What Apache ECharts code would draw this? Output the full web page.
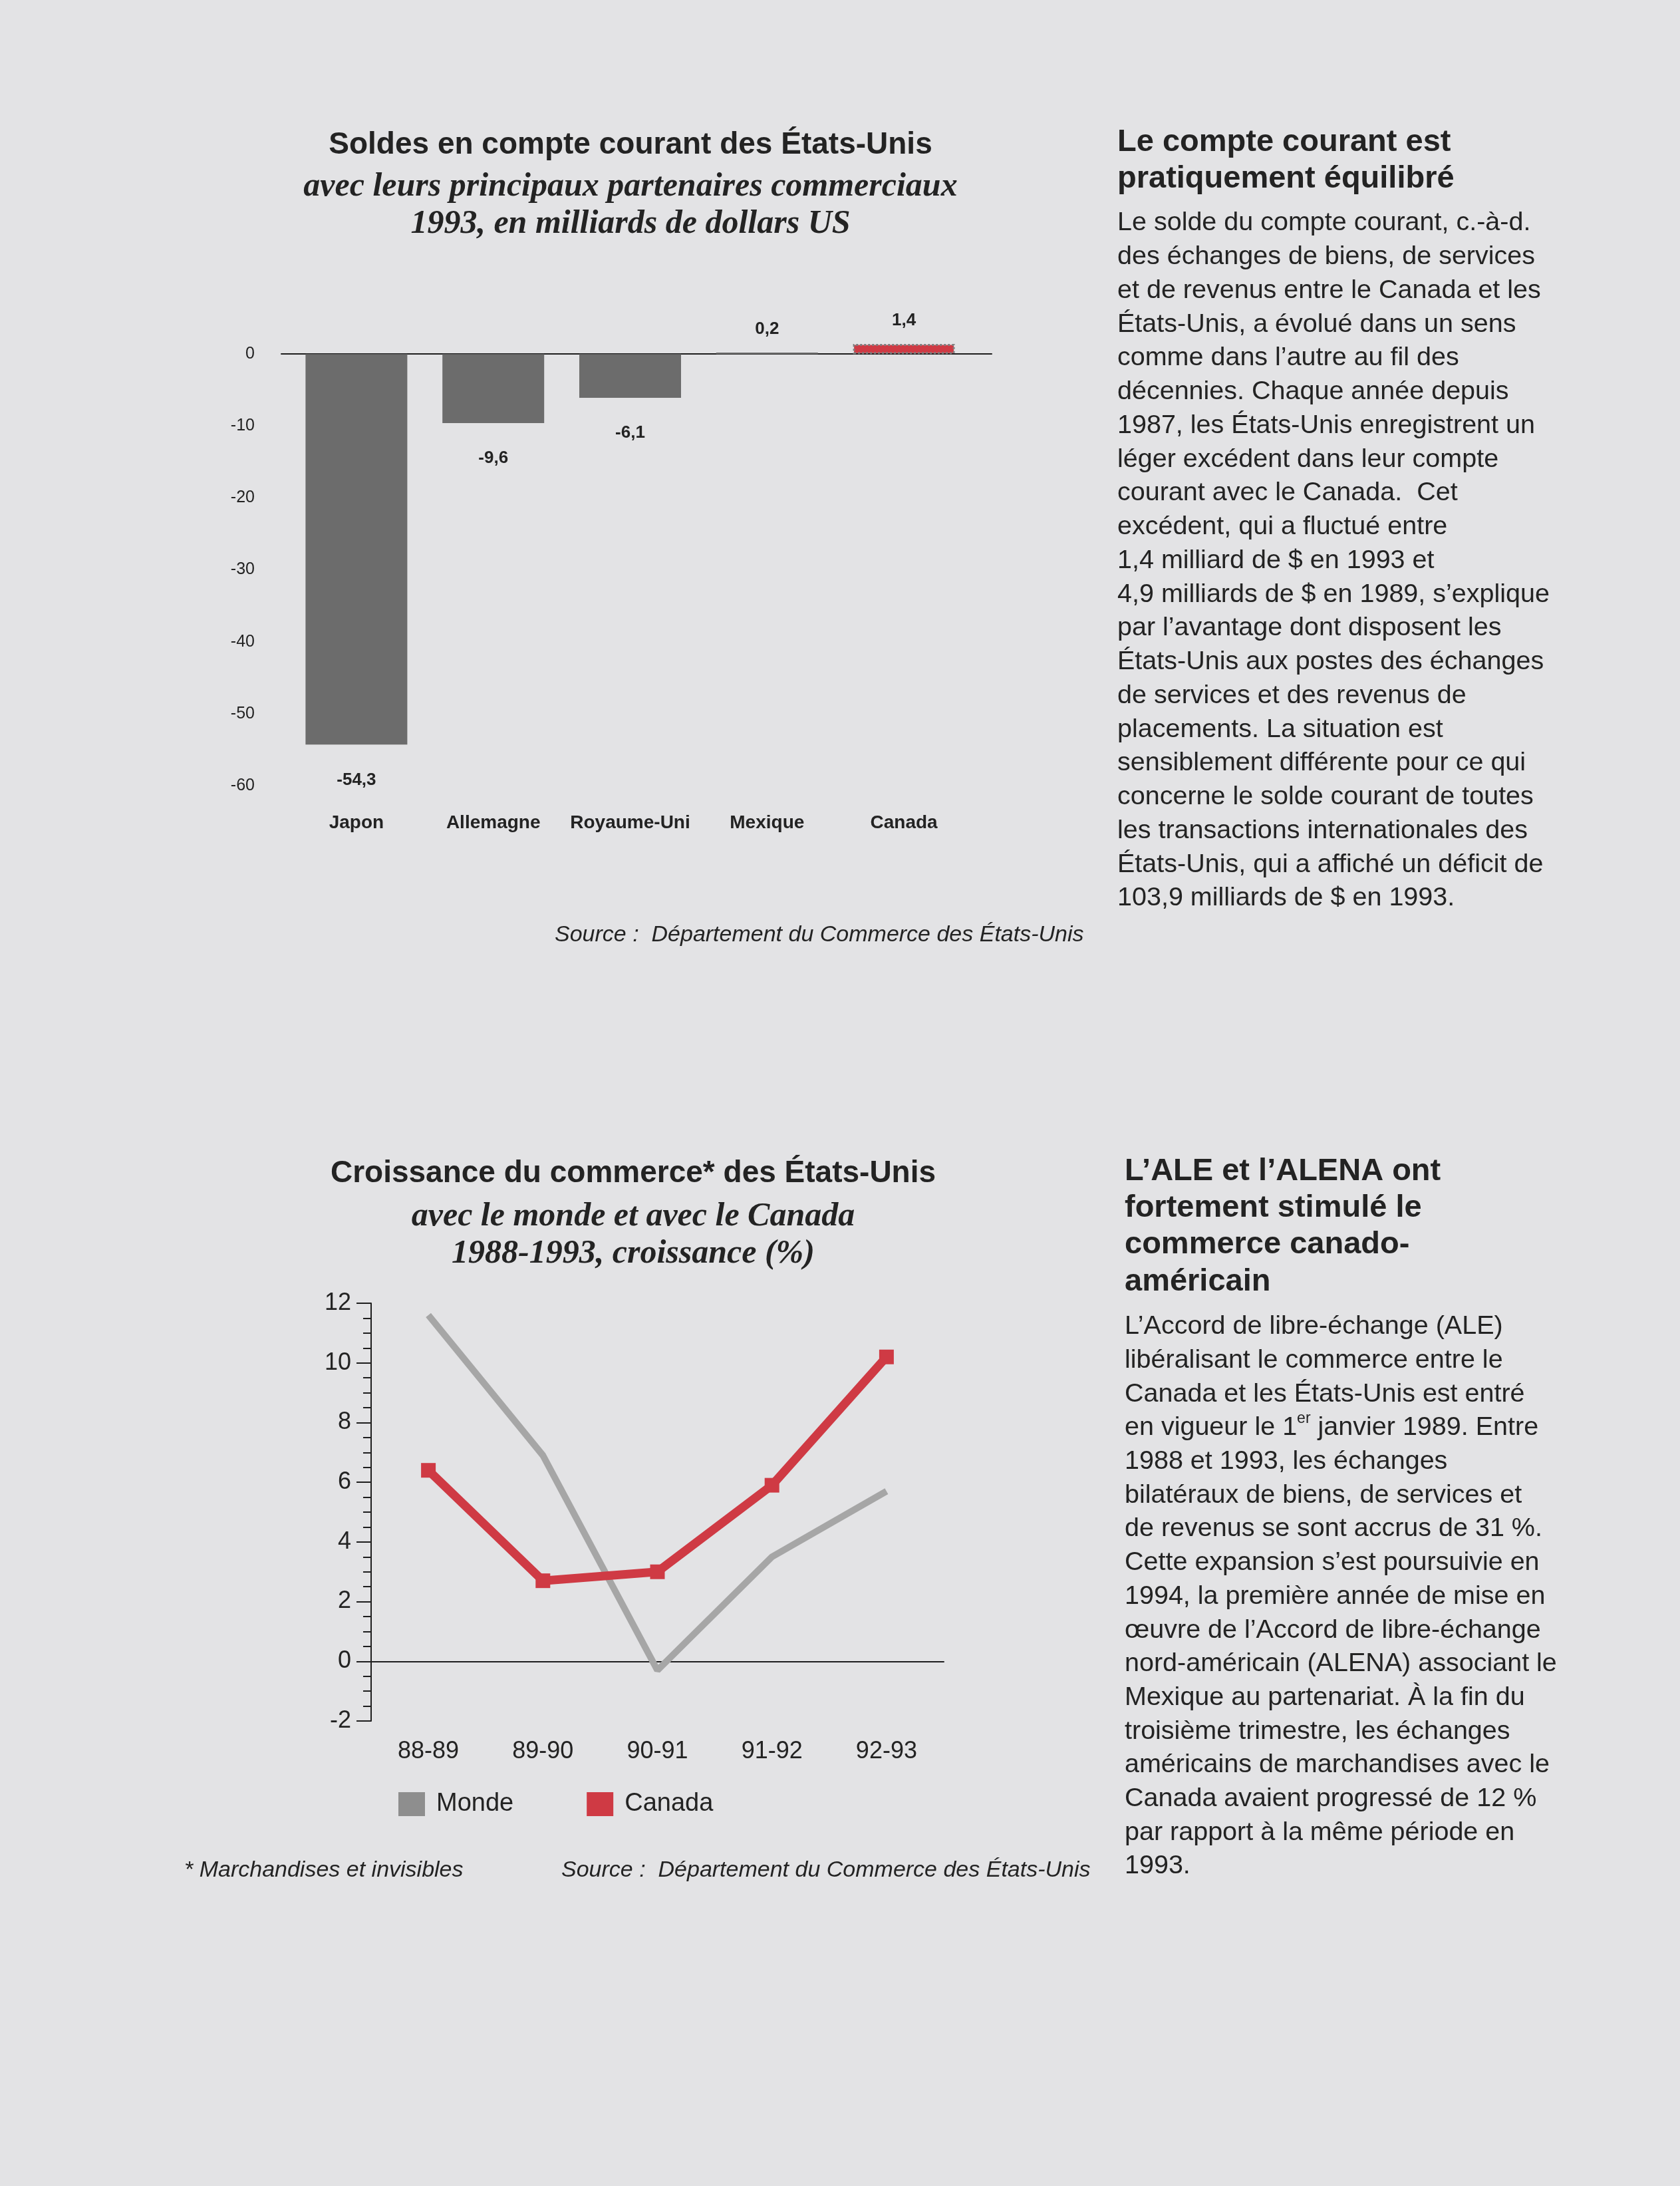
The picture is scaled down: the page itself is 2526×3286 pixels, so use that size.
<!DOCTYPE html>
<html><head><meta charset="utf-8">
<script src="https://cdn.jsdelivr.net/npm/echarts@6/dist/echarts.min.js"></script>
<style>html,body{margin:0;padding:0;background:#e3e3e5;}#c{width:2526px;height:3286px;}</style>
</head><body><div id="c"></div>
<script>
// ---- data ----
const balanceCategories = ['Japon', 'Allemagne', 'Royaume-Uni', 'Mexique', 'Canada'];
const balanceValues = [-54.3, -9.6, -6.1, 0.2, 1.4];
const balanceAxis = {min: -60, max: 10, interval: 10};

const growthPeriods = ['88-89', '89-90', '90-91', '91-92', '92-93'];
const growthMonde = [11.6, 6.9, -0.3, 3.5, 5.7];
const growthCanada = [6.4, 2.7, 3.0, 5.9, 10.2];
const growthAxis = {min: -2, max: 12, interval: 2};

const title1 = ['Soldes en compte courant des États-Unis', 'avec leurs principaux partenaires commerciaux', '1993, en milliards de dollars US'];
const title2 = ['Croissance du commerce* des États-Unis', 'avec le monde et avec le Canada', '1988-1993, croissance (%)'];
const sourceText = 'Source :  Département du Commerce des États-Unis';
const footnote = '* Marchandises et invisibles';

const head1 = ['Le compte courant est', 'pratiquement équilibré'];
const body1 = [
  'Le solde du compte courant, c.-à-d.',
  'des échanges de biens, de services',
  'et de revenus entre le Canada et les',
  'États-Unis, a évolué dans un sens',
  'comme dans l’autre au fil des',
  'décennies. Chaque année depuis',
  '1987, les États-Unis enregistrent un',
  'léger excédent dans leur compte',
  'courant avec le Canada.  Cet',
  'excédent, qui a fluctué entre',
  '1,4 milliard de $ en 1993 et',
  '4,9 milliards de $ en 1989, s’explique',
  'par l’avantage dont disposent les',
  'États-Unis aux postes des échanges',
  'de services et des revenus de',
  'placements. La situation est',
  'sensiblement différente pour ce qui',
  'concerne le solde courant de toutes',
  'les transactions internationales des',
  'États-Unis, qui a affiché un déficit de',
  '103,9 milliards de $ en 1993.'
];
const head2 = ['L’ALE et l’ALENA ont', 'fortement stimulé le', 'commerce canado-', 'américain'];
const body2 = [
  'L’Accord de libre-échange (ALE)',
  'libéralisant le commerce entre le',
  'Canada et les États-Unis est entré',
  'en vigueur le 1{sup|er} janvier 1989. Entre',
  '1988 et 1993, les échanges',
  'bilatéraux de biens, de services et',
  'de revenus se sont accrus de 31 %.',
  'Cette expansion s’est poursuivie en',
  '1994, la première année de mise en',
  'œuvre de l’Accord de libre-échange',
  'nord-américain (ALENA) associant le',
  'Mexique au partenariat. À la fin du',
  'troisième trimestre, les échanges',
  'américains de marchandises avec le',
  'Canada avaient progressé de 12 %',
  'par rapport à la même période en',
  '1993.'
];

// ---- styles ----
const SANS = '"Liberation Sans", Arial, sans-serif';
const SERIF = '"Liberation Serif", "Times New Roman", serif';
const INK = '#232323';
const BAR_GRAY = '#6c6c6c';
const RED = '#cf3a44';
const LINE_GRAY = '#a6a6a6';

function txt(x, y, text, o) {
  return {type: 'text', x: x, y: y, silent: true, style: Object.assign({
    text: text, fill: INK, fontFamily: SANS, fontSize: 34, align: 'left', verticalAlign: 'middle'
  }, o || {})};
}

const graphics = [
  txt(948, 218, title1[0], {align: 'center', fontSize: 46, fontWeight: 'bold'}),
  txt(948, 281, title1[1], {align: 'center', fontSize: 50, fontWeight: 'bold', fontStyle: 'italic', fontFamily: SERIF}),
  txt(948, 337, title1[2], {align: 'center', fontSize: 50, fontWeight: 'bold', fontStyle: 'italic', fontFamily: SERIF}),
  txt(834, 1406, sourceText, {fontSize: 34, fontStyle: 'italic'}),

  txt(952, 1764, title2[0], {align: 'center', fontSize: 46, fontWeight: 'bold'}),
  txt(952, 1829, title2[1], {align: 'center', fontSize: 50, fontWeight: 'bold', fontStyle: 'italic', fontFamily: SERIF}),
  txt(952, 1885, title2[2], {align: 'center', fontSize: 50, fontWeight: 'bold', fontStyle: 'italic', fontFamily: SERIF}),
  txt(277, 2812, footnote, {fontSize: 34, fontStyle: 'italic'}),
  txt(844, 2812, sourceText, {fontSize: 34, fontStyle: 'italic'}),

  txt(1680, 187, head1.join('\n'), {fontSize: 47, fontWeight: 'bold', lineHeight: 55, verticalAlign: 'top'}),
  txt(1680, 310, body1.join('\n'), {fontSize: 39.5, lineHeight: 50.75, verticalAlign: 'top'}),
  txt(1691, 1733, head2.join('\n'), {fontSize: 47, fontWeight: 'bold', lineHeight: 55.3, verticalAlign: 'top'}),
  txt(1691, 1969, body2.join('\n'), {fontSize: 39.5, lineHeight: 50.7, verticalAlign: 'top',
    rich: {sup: {fontSize: 23, fontFamily: SANS, fill: INK, verticalAlign: 'top', lineHeight: 50.7, padding: [0, 0, 18, 0]}}})
];

const axisLineStyle = {color: '#1e1e1e', width: 2};

const option = {
  backgroundColor: '#e3e3e5',
  animation: false,
  textStyle: {fontFamily: SANS},
  grid: [
    {left: 433, top: 424, width: 1029, height: 757},
    {left: 423, top: 424, width: 1068, height: 757},
    {left: 558, top: 1959, width: 861, height: 628}
  ],
  legend: {
    data: [{name: 'Monde', itemStyle: {color: '#8e8e8e'}}, {name: 'Canada', itemStyle: {color: RED}}],
    left: 594, top: 2688, icon: 'rect', itemWidth: 40, itemHeight: 36, itemGap: 110,
    textStyle: {fontSize: 38, color: INK, fontFamily: SANS, padding: [0, 0, 0, 12]}
  },
  xAxis: [
    {gridIndex: 0, type: 'category', data: balanceCategories, position: 'bottom',
      axisLine: {show: false, onZero: false}, axisTick: {show: false},
      axisLabel: {interval: 0, fontFamily: SANS, fontWeight: 'bold', fontSize: 28, color: INK, margin: 42}},
    {gridIndex: 1, type: 'category', data: balanceCategories, position: 'bottom',
      axisLine: {onZero: true, lineStyle: axisLineStyle}, axisTick: {show: false}, axisLabel: {show: false}},
    {gridIndex: 2, type: 'category', data: growthPeriods, position: 'bottom',
      axisLine: {show: false, onZero: false}, axisTick: {show: false},
      axisLabel: {interval: 0, fontFamily: SANS, fontSize: 36, color: INK, margin: 28}},
    {gridIndex: 2, type: 'category', data: growthPeriods, position: 'bottom',
      axisLine: {onZero: true, lineStyle: axisLineStyle}, axisTick: {show: false}, axisLabel: {show: false}}
  ],
  yAxis: [
    {gridIndex: 0, type: 'value', min: balanceAxis.min, max: balanceAxis.max, interval: balanceAxis.interval,
      axisLine: {show: false}, axisTick: {show: false}, splitLine: {show: false},
      axisLabel: {formatter: v => (v > 0 ? '' : String(v)), fontSize: 25, color: INK, margin: 50, fontFamily: SANS}},
    {gridIndex: 1, type: 'value', min: balanceAxis.min, max: balanceAxis.max, interval: balanceAxis.interval, show: false},
    {gridIndex: 2, type: 'value', min: growthAxis.min, max: growthAxis.max, interval: growthAxis.interval,
      axisLine: {show: true, lineStyle: axisLineStyle},
      axisTick: {show: true, length: 22, lineStyle: axisLineStyle},
      minorTick: {show: true, splitNumber: 4, length: 12, lineStyle: axisLineStyle},
      splitLine: {show: false},
      axisLabel: {fontSize: 36, margin: 30, color: INK, fontFamily: SANS}}
  ],
  series: [
    {type: 'bar', name: 'Solde', xAxisIndex: 0, yAxisIndex: 0, barWidth: 153,
      data: balanceValues.map((v, i) => ({
        value: v,
        itemStyle: balanceCategories[i] === 'Canada'
          ? {color: RED, borderColor: '#7e7e7e', borderWidth: 3, borderType: 'dotted'}
          : {color: BAR_GRAY},
        label: {position: v < 0 ? 'bottom' : 'top', distance: v < 0 ? 40 : 22}
      })),
      label: {show: true, formatter: p => String(p.value).replace('.', ','),
        fontFamily: SANS, fontWeight: 'bold', fontSize: 26, color: INK}},
    {type: 'line', name: 'Monde', xAxisIndex: 2, yAxisIndex: 2, data: growthMonde, symbol: 'none',
      lineStyle: {color: LINE_GRAY, width: 10}, itemStyle: {color: LINE_GRAY}},
    {type: 'line', name: 'Canada', xAxisIndex: 2, yAxisIndex: 2, data: growthCanada,
      symbol: 'rect', symbolSize: 22,
      lineStyle: {color: RED, width: 13}, itemStyle: {color: RED}}
  ],
  graphic: graphics
};

const chart = echarts.init(document.getElementById('c'), null, {renderer: 'canvas', width: 2526, height: 3286});
chart.setOption(option);
</script>
</body></html>
